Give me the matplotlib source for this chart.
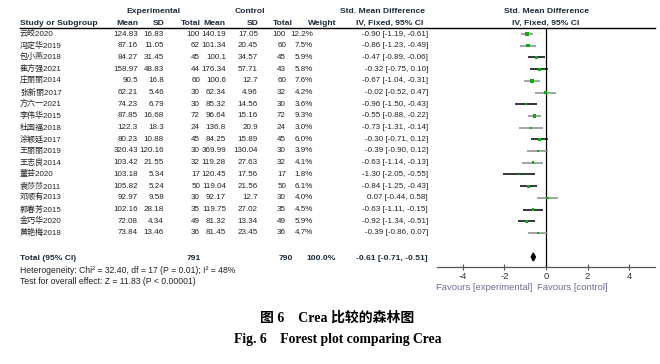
import numpy as np
import matplotlib
matplotlib.use("Agg")
import matplotlib.pyplot as plt

plt.rcParams["axes.unicode_minus"] = False
SANS = ["Liberation Sans", "Noto Sans CJK SC"]
SERIF = ["Liberation Serif", "Noto Sans CJK SC"]

STUDIES = ["云皎2020", "冯定华2019", "包小燕2018", "崔方强2021", "庄丽丽2014", "张新丽2017",
           "方六一2021", "李伟华2015", "杜国福2018", "涂颖廷2017", "王丽丽2019", "王志良2014",
           "董芸2020", "袁莎莎2011", "邓顺有2013", "郭春芳2015", "金巧华2020", "黄艳梅2018"]
EXP_MEAN = [124.83, 87.16, 84.27, 158.97, 90.5, 62.21, 74.23, 87.85, 122.3, 80.23,
            320.43, 103.42, 103.18, 105.82, 92.97, 102.16, 72.08, 73.84]
EXP_SD = [16.83, 11.05, 31.45, 48.83, 16.8, 5.46, 6.79, 16.68, 18.3, 10.88,
          120.16, 21.55, 5.34, 5.24, 9.58, 28.18, 4.34, 13.46]
EXP_N = [100, 62, 45, 44, 60, 30, 30, 72, 24, 45, 30, 32, 17, 50, 30, 35, 49, 36]
CTL_MEAN = [140.19, 101.34, 100.1, 176.34, 100.6, 62.34, 85.32, 96.64, 136.8, 84.25,
            369.99, 119.28, 120.45, 119.04, 92.17, 119.75, 81.32, 81.45]
CTL_SD = [17.05, 20.45, 34.57, 57.71, 12.7, 4.96, 14.56, 15.16, 20.9, 15.89,
          130.04, 27.63, 17.56, 21.56, 12.7, 27.02, 13.34, 23.45]
CTL_N = [100, 60, 45, 43, 60, 32, 30, 72, 24, 45, 30, 32, 17, 50, 30, 35, 49, 36]
WEIGHT = [12.2, 7.5, 5.9, 5.8, 7.6, 4.2, 3.6, 9.3, 3.0, 6.0, 3.9, 4.1, 1.8, 6.1, 4.0, 4.5, 5.9, 4.7]
SMD = [-0.90, -0.86, -0.47, -0.32, -0.67, -0.02, -0.96, -0.55, -0.73, -0.30,
       -0.39, -0.63, -1.30, -0.84, 0.07, -0.63, -0.92, -0.39]
LO = [-1.19, -1.23, -0.89, -0.75, -1.04, -0.52, -1.50, -0.88, -1.31, -0.71,
      -0.90, -1.14, -2.05, -1.25, -0.44, -1.11, -1.34, -0.86]
HI = [-0.61, -0.49, -0.06, 0.10, -0.31, 0.47, -0.43, -0.22, -0.14, 0.12,
      0.12, -0.13, -0.55, -0.43, 0.58, -0.15, -0.51, 0.07]
TOTAL_SMD, TOTAL_LO, TOTAL_HI = -0.61, -0.71, -0.51
HETERO = "Heterogeneity: Chi² = 32.40, df = 17 (P = 0.01); I² = 48%"
OVERALL = "Test for overall effect: Z = 11.83 (P < 0.00001)"
XTICKS = [-4, -2, 0, 2, 4]

# ci line shades as rendered in the source image
CI_COLORS = ["#8a8a8a", "#8a8a8a", "black", "black", "#8a8a8a", "#8a8a8a", "black", "#8a8a8a",
             "#8a8a8a", "black", "#8a8a8a", "#8a8a8a", "black", "black", "#8a8a8a", "black",
             "black", "#8a8a8a"]

HEAD = "#1c2b3a"
FS = 5.8     # table values
FH = 6.1     # bold headers

fig = plt.figure(figsize=(6.6, 3.64), dpi=100)
tx = fig.add_axes([0, 0, 1, 1])
tx.set_xlim(0, 660); tx.set_ylim(364, 0); tx.axis("off")

row_y = 34 + 11.7 * np.arange(len(STUDIES))
tot_y = 259


def t(x, y, s, ha="right", bold=False, color="#222222", size=FS, fam=SANS):
    tx.text(x, y, s, ha=ha, va="center", fontsize=size, family=fam,
            fontweight="bold" if bold else "normal", color=color)


def th(x, y, s, ha="right"):
    t(x, y, s, ha=ha, bold=True, color=HEAD, size=FH)


# headers
th(153, 11.7, "Experimental", ha="center")
th(250, 11.7, "Control", ha="center")
th(382, 11.7, "Std. Mean Difference", ha="center")
th(546, 11.7, "Std. Mean Difference", ha="center")
th(546, 23.3, "IV, Fixed, 95% CI", ha="center")
th(20, 23.3, "Study or Subgroup", ha="left")
for x, s in [(138, "Mean"), (165, "SD"), (201, "Total"), (225, "Mean"), (259, "SD"),
             (293, "Total"), (336, "Weight"), (423, "IV, Fixed, 95% CI")]:
    th(x, 23.3, s)
tx.plot([20, 655], [28.3, 28.3], color="black", lw=1)

for i, y in enumerate(row_y):
    t(20, y, STUDIES[i], ha="left")
    t(138, y, f"{EXP_MEAN[i]:g}")
    t(164, y, f"{EXP_SD[i]:g}")
    t(200, y, f"{EXP_N[i]}")
    t(226, y, f"{CTL_MEAN[i]:g}")
    t(258, y, f"{CTL_SD[i]:g}")
    t(286, y, f"{CTL_N[i]}")
    t(313, y, f"{WEIGHT[i]:.1f}%")
    t(428, y, f"{SMD[i]:.2f} [{LO[i]:.2f}, {HI[i]:.2f}]")

th(20, tot_y, "Total (95% CI)", ha="left")
th(201, tot_y, f"{sum(EXP_N)}")
th(293, tot_y, f"{sum(CTL_N)}")
th(336, tot_y, "100.0%")
th(428, tot_y, f"{TOTAL_SMD:.2f} [{TOTAL_LO:.2f}, {TOTAL_HI:.2f}]")
t(20, 270.7, HETERO, ha="left", size=6.2)
t(20, 281.7, OVERALL, ha="left", size=6.2)

# forest panel
ax = fig.add_axes([437 / 660, 1 - 266.7 / 364, 218 / 660, (266.7 - 28.3) / 364])
ax.set_xlim(-5.25, 5.25)
ax.set_ylim(266.7, 28.3)
ax.patch.set_alpha(0)
for s in ["top", "left", "right"]:
    ax.spines[s].set_visible(False)
ax.spines["bottom"].set_color("#555555")
ax.spines["bottom"].set_linewidth(0.9)
ax.axvline(0, color="black", lw=0.9)
ax.hlines(row_y, LO, HI, colors=CI_COLORS, lw=1.1)
ax.scatter(SMD, row_y, marker="s", s=np.array(WEIGHT) * 0.8, color="#00b400", lw=0, zorder=3)
dy = 4
ax.fill([TOTAL_LO, TOTAL_SMD, TOTAL_HI, TOTAL_SMD],
        [tot_y - 2, tot_y - 2 - dy, tot_y - 2, tot_y - 2 + dy], color="black", zorder=3)
ax.set_yticks([])
ax.set_xticks(XTICKS)
ax.set_xticklabels([str(v) for v in XTICKS], fontsize=6.8, family=SANS, color="#333333")
ax.tick_params(axis="x", direction="inout", length=5, width=0.8, color="#555555", pad=1)

t(532, 287, "Favours [experimental]", color="#6e6e96", size=6.8)
t(537, 287, "Favours [control]", ha="left", color="#6e6e96", size=6.8)

# caption
t(337, 318, "图 6    Crea 比较的森林图", ha="center", bold=True, color="black", size=10, fam=SERIF)
t(338, 340, "Fig. 6    Forest plot comparing Crea", ha="center", bold=True, color="black", size=9.8, fam=SERIF)

fig.savefig("out.png", dpi=100)
